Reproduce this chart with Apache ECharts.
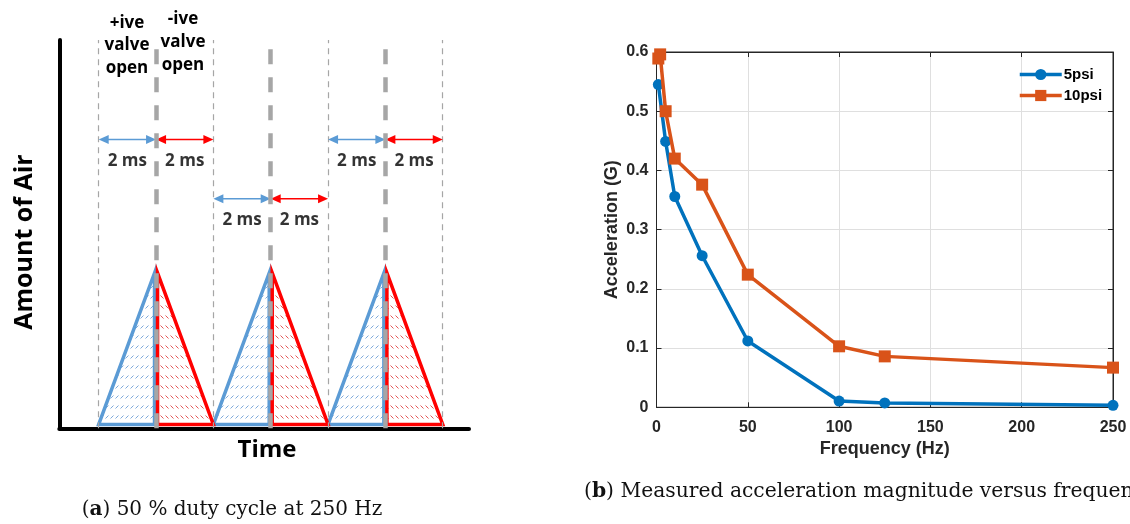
<!DOCTYPE html>
<html><head><meta charset="utf-8">
<script src="https://cdn.jsdelivr.net/npm/echarts@6/dist/echarts.min.js"></script>
<style>html,body{margin:0;padding:0;background:#fff}#c{width:1130px;height:524px}</style>
</head><body><div id="c"></div>
<script>
// ---------- Panel (a): 50 % duty cycle schematic ----------
const cycleStartsMs = [0, 4, 8];
const riseMs = 2;
const fallMs = 2;
const baseLevel = 0.1;
const peakLevel = 4;
const thinGuidesMs = [0, 4, 8, 12];
const thickGuidesMs = [2, 6, 10];
const arrowFrom = [0, 2, 8, 10, 4, 6];
const arrowTo = [2, 4, 10, 12, 6, 8];
const arrowLevel = [7.44, 7.44, 7.44, 7.44, 5.91, 5.91];
const arrowKind = ['pos', 'neg', 'pos', 'neg', 'pos', 'neg'];
const spanLabelLevel = [6.88, 6.88, 6.88, 6.88, 5.36, 5.36];
const spanLabelText = '2 ms';

// ---------- Panel (b): measured acceleration ----------
const freq5psi = [1, 5, 10, 25, 50, 100, 125, 250];
const acc5psi = [0.545, 0.449, 0.356, 0.256, 0.112, 0.0106, 0.0073, 0.0034];
const freq10psi = [1, 2, 5, 10, 25, 50, 100, 125, 250];
const acc10psi = [0.589, 0.596, 0.500, 0.420, 0.376, 0.224, 0.103, 0.086, 0.067];
const seriesNames = ['5psi', '10psi'];

const BLUE_A = '#5b9bd5', RED_A = '#ff0000';
const BLUE_B = '#0072BD', ORANGE_B = '#D95319';
const AX = '#262626';
const SANS_A = 'Open Sans';
const SANS_B = 'Liberation Sans';
const SERIF = 'DejaVu Serif';

function hatch(color, back) {
  const c = document.createElement('canvas');
  c.width = 5; c.height = 10;
  const g = c.getContext('2d');
  g.strokeStyle = color; g.lineWidth = 1;
  g.beginPath();
  if (back) { g.moveTo(0.5, 5.5); g.lineTo(3.5, 8.5); }
  else { g.moveTo(0.5, 8.5); g.lineTo(3.5, 5.5); }
  g.stroke();
  return c;
}
const hatchBlue = hatch('#7da9da', false);
const hatchRed = hatch('#e25555', true);

const chart = echarts.init(document.getElementById('c'), null, {renderer: 'canvas'});

const HEAD_L = 10, HEAD_W = 4.5;

const option = {
  animation: false,
  backgroundColor: '#fff',
  grid: [
    {left: 59.3, top: 40, width: 409.7, height: 388.3, show: false},
    {left: 656.5, top: 52, width: 456.5, height: 355.3, show: true, borderColor: AX, borderWidth: 1, backgroundColor: '#fff'}
  ],
  xAxis: [
    {gridIndex: 0, type: 'value', min: -1.374, max: 12.916,
     axisLine: {show: true, onZero: false, lineStyle: {color: '#000', width: 4}},
     axisTick: {show: false}, axisLabel: {show: false}, splitLine: {show: false}},
    {gridIndex: 1, type: 'value', min: 0, max: 250, interval: 50,
     axisLine: {show: true, onZero: false, lineStyle: {color: AX, width: 1}},
     axisTick: {show: true, inside: true, length: 5, lineStyle: {color: AX}},
     axisLabel: {fontFamily: SANS_B, fontWeight: 'bold', fontSize: 16, color: AX, margin: 12},
     splitLine: {show: true, lineStyle: {color: '#dfdfdf', width: 1}},
     name: 'Frequency (Hz)', nameLocation: 'middle', nameGap: 33,
     nameTextStyle: {fontFamily: SANS_B, fontWeight: 'bold', fontSize: 18, color: AX}},
    {gridIndex: 1, type: 'value', position: 'top', min: 0, max: 250, interval: 50,
     axisLine: {show: true, onZero: false, lineStyle: {color: AX, width: 1}},
     axisTick: {show: true, inside: true, length: 5, lineStyle: {color: AX}},
     axisLabel: {show: false}, splitLine: {show: false}}
  ],
  yAxis: [
    {gridIndex: 0, type: 'value', min: 0, max: 10,
     axisLine: {show: true, onZero: false, lineStyle: {color: '#000', width: 4}},
     axisTick: {show: false}, axisLabel: {show: false}, splitLine: {show: false}},
    {gridIndex: 1, type: 'value', min: 0, max: 0.6, interval: 0.1,
     axisLine: {show: true, onZero: false, lineStyle: {color: AX, width: 1}},
     axisTick: {show: true, inside: true, length: 5, lineStyle: {color: AX}},
     axisLabel: {fontFamily: SANS_B, fontWeight: 'bold', fontSize: 16, color: AX, margin: 8},
     splitLine: {show: true, lineStyle: {color: '#dfdfdf', width: 1}},
     name: 'Acceleration (G)', nameLocation: 'middle', nameGap: 35, nameRotate: 90,
     nameTextStyle: {fontFamily: SANS_B, fontWeight: 'bold', fontSize: 18, color: AX}},
    {gridIndex: 1, type: 'value', position: 'right', min: 0, max: 0.6, interval: 0.1,
     axisLine: {show: true, onZero: false, lineStyle: {color: AX, width: 1}},
     axisTick: {show: true, inside: true, length: 5, lineStyle: {color: AX}},
     axisLabel: {show: false}, splitLine: {show: false}}
  ],
  legend: {
    data: seriesNames, orient: 'vertical', left: 1013, top: 62,
    itemWidth: 42, itemHeight: 14, itemGap: 6,
    lineStyle: {width: 3.5},
    textStyle: {fontFamily: SANS_B, fontWeight: 'bold', fontSize: 15, color: '#000', padding: [0, 0, 0, -3]},
    backgroundColor: 'transparent', borderWidth: 0
  },
  series: [
    // thin guides
    {type: 'line', xAxisIndex: 0, yAxisIndex: 0, data: [], silent: true, z: 1,
     markLine: {silent: true, symbol: 'none', label: {show: false},
       lineStyle: {color: '#a6a6a6', width: 1.2, type: [6, 5]},
       data: thinGuidesMs.map(v => ({xAxis: v}))}},
    // blue (+ive) triangles
    {type: 'custom', xAxisIndex: 0, yAxisIndex: 0, z: 3, silent: true,
     data: cycleStartsMs.map(s => [s, peakLevel]),
     renderItem: (params, api) => {
       const s = api.value(0);
       const p0 = api.coord([s, baseLevel]);
       const p1 = api.coord([s + riseMs, peakLevel]);
       const p2 = api.coord([s + riseMs, baseLevel]);
       p1[0] -= 1.5; p2[0] -= 1.5;
       return {type: 'polygon', shape: {points: [p0, p1, p2]},
         style: {fill: {image: hatchBlue, repeat: 'repeat'}, stroke: BLUE_A, lineWidth: 3.5, lineJoin: 'miter'}};
     }},
    // red (-ive) triangles
    {type: 'custom', xAxisIndex: 0, yAxisIndex: 0, z: 4, silent: true,
     data: cycleStartsMs.map(s => [s + riseMs, peakLevel]),
     renderItem: (params, api) => {
       const s = api.value(0);
       const p0 = api.coord([s, peakLevel]);
       const p1 = api.coord([s + fallMs, baseLevel]);
       const p2 = api.coord([s, baseLevel]);
       p0[0] += 1.5; p2[0] += 1.5;
       return {type: 'polygon', shape: {points: [p0, p1, p2]},
         style: {fill: {image: hatchRed, repeat: 'repeat'}, stroke: RED_A, lineWidth: 3.5, lineJoin: 'miter'}};
     }},
    // double-headed span arrows
    {type: 'custom', xAxisIndex: 0, yAxisIndex: 0, z: 5, silent: true,
     data: arrowFrom.map((f, i) => [f, arrowTo[i], arrowLevel[i], arrowKind[i] === 'pos' ? 0 : 1]),
     renderItem: (params, api) => {
       const a = api.coord([api.value(0), api.value(2)]);
       const b = api.coord([api.value(1), api.value(2)]);
       const col = api.value(3) === 0 ? BLUE_A : RED_A;
       const y = a[1];
       return {type: 'group', children: [
         {type: 'line', shape: {x1: a[0] + HEAD_L - 1, y1: y, x2: b[0] - HEAD_L + 1, y2: y},
          style: {stroke: col, lineWidth: 1.5}},
         {type: 'polygon', shape: {points: [[a[0], y], [a[0] + HEAD_L, y - HEAD_W], [a[0] + HEAD_L, y + HEAD_W]]},
          style: {fill: col}},
         {type: 'polygon', shape: {points: [[b[0], y], [b[0] - HEAD_L, y - HEAD_W], [b[0] - HEAD_L, y + HEAD_W]]},
          style: {fill: col}}
       ]};
     }},
    // thick guides
    {type: 'line', xAxisIndex: 0, yAxisIndex: 0, data: [], silent: true, z: 6,
     markLine: {silent: true, symbol: 'none', label: {show: false}, z: 6,
       lineStyle: {color: '#a6a6a6', width: 4.5, type: [15, 13]},
       data: thickGuidesMs.map(v => ({xAxis: v}))}},
    // span labels
    {type: 'scatter', xAxisIndex: 0, yAxisIndex: 0, symbolSize: 0, silent: true, z: 7,
     data: arrowFrom.map((f, i) => [(f + arrowTo[i]) / 2, spanLabelLevel[i]]),
     label: {show: true, position: 'inside', formatter: spanLabelText, textBorderWidth: 0,
       fontFamily: SANS_A, fontWeight: 'bold', fontSize: 17, color: '#000'}},
    // panel (b)
    {name: seriesNames[0], type: 'line', xAxisIndex: 1, yAxisIndex: 1, z: 3,
     data: freq5psi.map((f, i) => [f, acc5psi[i]]),
     symbol: 'circle', symbolSize: 11, showAllSymbol: true,
     lineStyle: {color: BLUE_B, width: 3.5}, itemStyle: {color: BLUE_B}},
    {name: seriesNames[1], type: 'line', xAxisIndex: 1, yAxisIndex: 1, z: 4,
     data: freq10psi.map((f, i) => [f, acc10psi[i]]),
     symbol: 'rect', symbolSize: 12, showAllSymbol: true,
     lineStyle: {color: ORANGE_B, width: 3.5}, itemStyle: {color: ORANGE_B}}
  ],
  graphic: [
    {type: 'text', x: 127, y: 11.5, style: {text: '+ive\nvalve\nopen', align: 'center', verticalAlign: 'top',
      lineHeight: 22.7, font: 'bold 17px "' + SANS_A + '"', fill: '#000'}},
    {type: 'text', x: 183, y: 7.8, style: {text: '-ive\nvalve\nopen', align: 'center', verticalAlign: 'top',
      lineHeight: 22.9, font: 'bold 17px "' + SANS_A + '"', fill: '#000'}},
    {type: 'text', x: 25, y: 242, rotation: Math.PI / 2, style: {text: 'Amount of Air', align: 'center', verticalAlign: 'middle',
      font: 'bold 25px "' + SANS_A + '"', fill: '#000'}},
    {type: 'text', x: 267, y: 450, style: {text: 'Time', align: 'center', verticalAlign: 'middle',
      font: 'bold 24px "' + SANS_A + '"', fill: '#000'}},
    {type: 'text', x: 232, y: 510, style: {
      text: '{p|(}{b|a}{p|) 50 % duty cycle at 250 Hz}', align: 'center', verticalAlign: 'middle',
      rich: {p: {fontFamily: SERIF, fontSize: 20, fill: '#111'}, b: {fontFamily: SERIF, fontSize: 20, fontWeight: 'bold', fill: '#111'}}}},
    {type: 'text', x: 584, y: 492, style: {
      text: '{p|(}{b|b}{p|) Measured acceleration magnitude versus frequency}', align: 'left', verticalAlign: 'middle',
      rich: {p: {fontFamily: SERIF, fontSize: 20.3, fill: '#111'}, b: {fontFamily: SERIF, fontSize: 20.3, fontWeight: 'bold', fill: '#111'}}}}
  ]
};
chart.setOption(option);
</script>
</body></html>
